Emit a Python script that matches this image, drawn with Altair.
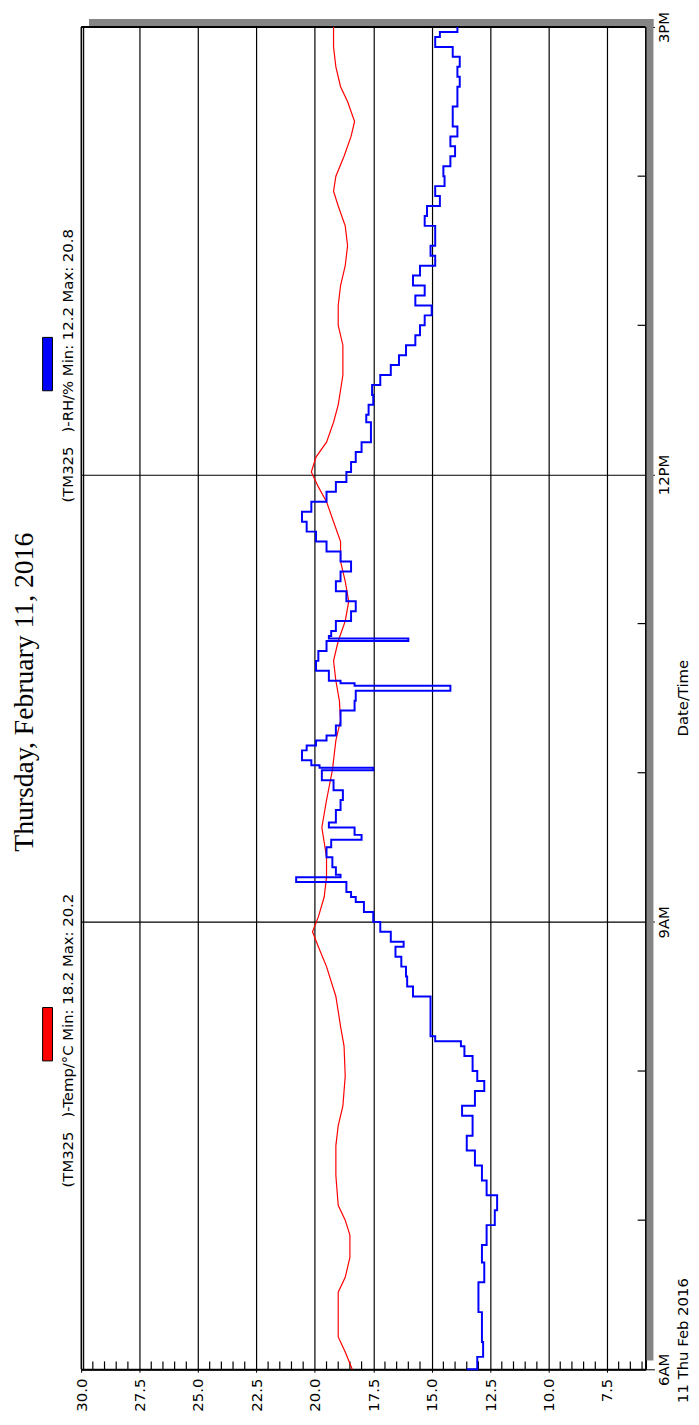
import altair as alt
import pandas as pd

# ---- data (minutes after 06:00, value) ----
temp_min = [0, 7, 13, 19, 31, 37, 45, 54, 60, 66, 78, 90, 98, 106, 118, 130, 138, 150, 162, 170,
            176, 182, 190, 198, 206, 218, 229, 241, 253, 261, 269, 277, 285, 293, 301, 309, 317,
            325, 333, 341, 349, 355, 361, 367, 373, 381, 388, 400, 412, 420, 428, 436, 444, 452,
            460, 468, 474, 480, 488, 496, 502, 510, 516, 524, 532, 540]
temp_val = [18.4, 18.7, 19.0, 19.0, 19.0, 18.7, 18.5, 18.5, 18.7, 19.0, 19.1, 19.1, 19.0, 18.8,
            18.7, 18.75, 18.9, 19.1, 19.5, 19.85, 20.1, 19.85, 19.6, 19.5, 19.5, 19.7, 19.5,
            19.25, 19.1, 18.9, 18.95, 19.1, 19.2, 19.0, 18.7, 18.55, 18.7, 18.9, 18.9, 19.2,
            19.5, 19.85, 20.15, 19.95, 19.5, 19.2, 19.0, 18.8, 18.8, 19.0, 19.0, 18.9, 18.7,
            18.6, 18.7, 19.0, 19.2, 19.1, 18.75, 18.45, 18.3, 18.6, 18.9, 19.1, 19.2, 19.2]

rh_min = [0, 5, 11, 23, 35, 43, 50, 58, 64, 70, 76, 82, 88, 94, 102, 106, 112, 116, 120, 126,
          130, 132, 134, 150, 154, 158, 162, 166, 170, 172, 176, 180, 184, 188, 190, 192, 196,
          198, 199, 202, 206, 210, 213, 215, 218, 220, 225, 229, 233, 237, 241, 242, 243, 245,
          249, 251, 253, 255, 259, 265, 269, 273, 275, 276, 277, 281, 285, 289, 293, 294, 295,
          297, 301, 305, 309, 313, 317, 321, 325, 329, 333, 337, 341, 345, 349, 353, 357, 361,
          365, 369, 373, 377, 381, 384, 388, 392, 396, 400, 404, 408, 412, 416, 420, 424, 428,
          432, 436, 440, 444, 448, 452, 456, 460, 464, 468, 472, 476, 480, 484, 488, 492, 496,
          500, 504, 508, 512, 516, 520, 524, 528, 532, 536, 538, 540]
rh_val = [13.5, 13.05, 12.8, 12.85, 13.0, 12.75, 12.85, 12.65, 12.3, 12.2, 12.65, 12.85, 13.15,
          13.5, 13.25, 13.7, 13.15, 12.75, 13.05, 13.25, 13.6, 13.75, 14.85, 15.05, 15.8, 16.05,
          16.1, 16.3, 16.55, 16.2, 16.75, 17.2, 17.5, 17.9, 18.25, 18.45, 18.65, 20.8, 18.9,
          19.1, 19.25, 19.5, 19.3, 18.0, 18.3, 19.4, 19.1, 18.9, 18.8, 19.2, 19.7, 17.5, 19.8,
          20.15, 20.55, 20.35, 19.95, 19.5, 19.1, 18.9, 18.3, 18.25, 14.2, 18.3, 18.9, 19.4,
          19.95, 19.85, 19.5, 16.0, 19.4, 19.3, 19.1, 18.45, 18.25, 18.65, 19.1, 18.9, 18.45,
          18.9, 19.5, 19.95, 20.35, 20.55, 20.15, 19.5, 19.1, 18.65, 18.45, 18.25, 18.0, 17.6,
          17.6, 17.8, 17.7, 17.5, 17.55, 17.2, 16.75, 16.4, 16.1, 15.7, 15.5, 15.3, 15.0, 15.7,
          15.3, 15.8, 15.5, 14.85, 15.05, 14.85, 14.85, 15.3, 15.2, 14.65, 14.85, 14.45, 14.5,
          14.2, 14.0, 14.2, 13.9, 14.1, 14.1, 13.9, 13.9, 13.8, 13.9, 13.8, 14.1, 14.85, 14.65,
          13.9]

x_ticks = [30.0, 27.5, 25.0, 22.5, 20.0, 17.5, 15.0, 12.5, 10.0, 7.5]
x_minor = [v / 2 for v in range(12, 60) if v % 5 != 0]
hour_ticks = [6, 9, 12, 15]
hour_labels = {6: "6AM", 9: "9AM", 12: "12PM", 15: "3PM"}
hour_minor = [7, 8, 10, 11, 13, 14]

NB = "\u00a0"
title_text = "Thursday, February 11, 2016"
legend_temp = f"(TM325{NB}{NB}{NB})-Temp/°C Min: 18.2 Max: 20.2"
legend_rh = f"(TM325{NB}{NB}{NB})-RH/% Min: 12.2 Max: 20.8"

W, H = 571, 1358
FONT = "DejaVu Sans"

temp_df = pd.DataFrame({"h": [6 + m / 60 for m in temp_min], "v": temp_val})
rh_df = pd.DataFrame({"h": [6 + m / 60 for m in rh_min], "v": rh_val})

xscale = alt.Scale(domain=[5.85, 30], reverse=True, nice=False, zero=False)
yscale = alt.Scale(domain=[6, 15], nice=False, zero=False)

label_expr = " : ".join(
    [f"datum.value == {k} ? '{v}'" for k, v in hour_labels.items()]) + " : ''"

x_axis = alt.Axis(values=x_ticks, format=".1f", labelAngle=270, labelFont=FONT,
                  labelFontSize=15, labelColor="black", labelPadding=6, tickSize=3,
                  tickColor="black", grid=True, gridColor="black", gridWidth=1.2,
                  domainColor="black", domainWidth=2, title=None, labelAlign="right",
                  labelBaseline="middle")
y_axis = alt.Axis(orient="right", values=hour_ticks, labelExpr=label_expr, labelAngle=270,
                  labelAlign="center", labelBaseline="top", labelFont=FONT, labelFontSize=15,
                  labelColor="black", labelPadding=2, tickSize=9, tickColor="black",
                  grid=True, gridColor="black", gridWidth=1.2, domainColor="black",
                  domainWidth=2, title=None)

base_axes = alt.Chart(temp_df).mark_line(opacity=0).encode(
    x=alt.X("v:Q", scale=xscale, axis=x_axis),
    y=alt.Y("h:Q", scale=yscale, axis=y_axis),
)

one = pd.DataFrame({"k": [0]})
shadow_top = alt.Chart(one).mark_rect(color="#858585").encode(
    x=alt.value(8), x2=alt.value(W + 8), y=alt.value(-8), y2=alt.value(0))
shadow_right = alt.Chart(one).mark_rect(color="#858585").encode(
    x=alt.value(W + 1), x2=alt.value(W + 8), y=alt.value(-8), y2=alt.value(H - 9))

frame_top = alt.Chart(one).mark_rule(color="black", strokeWidth=2).encode(
    x=alt.value(0), x2=alt.value(W), y=alt.value(0))
frame_left1 = alt.Chart(one).mark_rule(color="black", strokeWidth=1.2).encode(
    x=alt.value(0), y=alt.value(0), y2=alt.value(H))
frame_left2 = alt.Chart(one).mark_rule(color="black", strokeWidth=1.2).encode(
    x=alt.value(2.5), y=alt.value(0), y2=alt.value(H))

minor_x = alt.Chart(pd.DataFrame({"v": x_minor})).mark_rule(color="black", strokeWidth=1.2).encode(
    x=alt.X("v:Q", scale=xscale), y=alt.value(H - 8), y2=alt.value(H))
minor_y = alt.Chart(pd.DataFrame({"h": hour_minor})).mark_rule(color="black", strokeWidth=1.2).encode(
    y=alt.Y("h:Q", scale=yscale), x=alt.value(W - 8), x2=alt.value(W))

temp_line = alt.Chart(temp_df).mark_line(color="#ff0000", strokeWidth=1.2).encode(
    x=alt.X("v:Q", scale=xscale), y=alt.Y("h:Q", scale=yscale), order="h:Q")
rh_line = alt.Chart(rh_df).mark_line(color="#0000ff", strokeWidth=2, interpolate="step-after").encode(
    x=alt.X("v:Q", scale=xscale), y=alt.Y("h:Q", scale=yscale), order="h:Q")

leg_df = pd.DataFrame({
    "label": [legend_temp, legend_rh],
    "color": ["#ff0000", "#0000ff"],
    "ty": [1193 - 19, 500 - 19],
    "b1": [1011 - 19, 333 - 19],
    "b2": [1065 - 19, 387 - 19],
})
leg_boxes = alt.Chart(leg_df).mark_rect(stroke="black", strokeWidth=1).encode(
    x=alt.value(43 - 82), x2=alt.value(53 - 82),
    y=alt.Y("b1:Q", scale=None), y2="b2:Q",
    color=alt.Color("color:N", scale=None))
leg_text = alt.Chart(leg_df).mark_text(angle=270, align="left", baseline="middle", font=FONT,
                                       fontSize=15, color="black").encode(
    x=alt.value(69 - 82), y=alt.Y("ty:Q", scale=None), text="label:N")

misc_df = pd.DataFrame({"t": [title_text, "Date/Time", "11 Thu Feb 2016"]})
title_mark = alt.Chart(misc_df.iloc[[0]]).mark_text(
    angle=270, align="center", baseline="middle", font="Liberation Serif", fontSize=28,
    color="black").encode(x=alt.value(25 - 82), y=alt.value(692 - 19), text="t:N")
datetime_mark = alt.Chart(misc_df.iloc[[1]]).mark_text(
    angle=270, align="center", baseline="middle", font=FONT, fontSize=15,
    color="black").encode(x=alt.value(691 - 82), y=alt.value(698 - 19), text="t:N")
date_mark = alt.Chart(misc_df.iloc[[2]]).mark_text(
    angle=270, align="left", baseline="middle", font=FONT, fontSize=15,
    color="black").encode(x=alt.value(691 - 82), y=alt.value(1411 - 19), text="t:N")

chart = alt.layer(
    shadow_top, shadow_right, base_axes, frame_top, frame_left1, frame_left2,
    minor_x, minor_y, temp_line, rh_line, leg_boxes, leg_text,
    title_mark, datetime_mark, date_mark,
).properties(
    width=W, height=H,
    autosize=alt.AutoSizeParams(type="none"),
    padding={"left": 74, "top": 11, "right": 46, "bottom": 40},
    background="white",
).configure_view(stroke=None)

chart.save("out.html", embed_options={"renderer": "svg", "actions": False})
